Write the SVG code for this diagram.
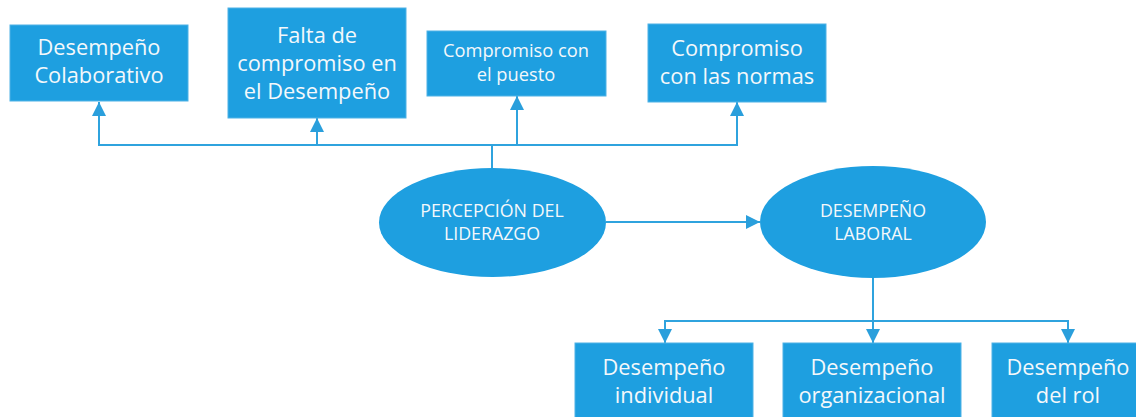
<svg xmlns="http://www.w3.org/2000/svg" width="1136" height="417" viewBox="0 0 1136 417">
<style>
.box{fill:#1E9FE0;stroke:#4FB2E6;stroke-width:1}
.ell{fill:#1E9FE0}
.t{font-family:"Open Sans","Liberation Sans",sans-serif;fill:#F4F8FB;text-anchor:middle}
.big{font-size:21.8px}
.sm{font-size:18.3px}
.el{font-size:17.8px;font-weight:500}
.conn{fill:none;stroke:#2FA3DE;stroke-width:2}
</style>
<defs>
<marker id="ah" viewBox="0 0 10 10" refX="10" refY="5" markerWidth="14" markerHeight="14" markerUnits="userSpaceOnUse" orient="auto">
<path d="M0,0 L10,5 L0,10 z" fill="#2A9FDC"/>
</marker>
</defs>
<rect width="1136" height="417" fill="#FFFFFF"/>
<g id="connectors">
<path class="conn" d="M492,168 V145 H99 V102" marker-end="url(#ah)"/>
<path class="conn" d="M492,145 H317 V118" marker-end="url(#ah)"/>
<path class="conn" d="M492,145 H517 V96" marker-end="url(#ah)"/>
<path class="conn" d="M492,145 H737 V102" marker-end="url(#ah)"/>
<path class="conn" d="M606,222 H760" marker-end="url(#ah)"/>
<path class="conn" d="M873,278 V343" marker-end="url(#ah)"/>
<path class="conn" d="M873,321 H665 V343" marker-end="url(#ah)"/>
<path class="conn" d="M873,321 H1068 V343" marker-end="url(#ah)"/>
</g>
<g id="n-colaborativo">
<rect class="box" x="10" y="25" width="178" height="76"/>
<text class="t big" x="99" y="55">Desempeño</text>
<text class="t big" x="99" y="83">Colaborativo</text>
</g>
<g id="n-falta">
<rect class="box" x="228" y="8" width="178" height="110"/>
<text class="t big" x="317" y="43">Falta de</text>
<text class="t big" x="317" y="71">compromiso en</text>
<text class="t big" x="317" y="99">el Desempeño</text>
</g>
<g id="n-puesto">
<rect class="box" x="427" y="31" width="179" height="65"/>
<text class="t sm" x="516" y="57">Compromiso con</text>
<text class="t sm" x="516" y="81">el puesto</text>
</g>
<g id="n-normas">
<rect class="box" x="648" y="24" width="178" height="78"/>
<text class="t big" x="737" y="56">Compromiso</text>
<text class="t big" x="737" y="84">con las normas</text>
</g>
<g id="n-percepcion">
<ellipse class="ell" cx="492.5" cy="222.5" rx="113.5" ry="54.5"/>
<text class="t el" x="492" y="217">PERCEPCIÓN DEL</text>
<text class="t el" x="492" y="240">LIDERAZGO</text>
</g>
<g id="n-laboral">
<ellipse class="ell" cx="873" cy="222" rx="113" ry="56"/>
<text class="t el" x="873" y="217">DESEMPEÑO</text>
<text class="t el" x="873" y="240">LABORAL</text>
</g>
<g id="n-individual">
<rect class="box" x="575" y="343" width="178" height="80"/>
<text class="t big" x="664" y="375">Desempeño</text>
<text class="t big" x="664" y="403">individual</text>
</g>
<g id="n-organizacional">
<rect class="box" x="783" y="343" width="178" height="80"/>
<text class="t big" x="872" y="375">Desempeño</text>
<text class="t big" x="872" y="403">organizacional</text>
</g>
<g id="n-rol">
<rect class="box" x="992" y="343" width="150" height="80"/>
<text class="t big" x="1068" y="375">Desempeño</text>
<text class="t big" x="1068" y="403">del rol</text>
</g>
</svg>
